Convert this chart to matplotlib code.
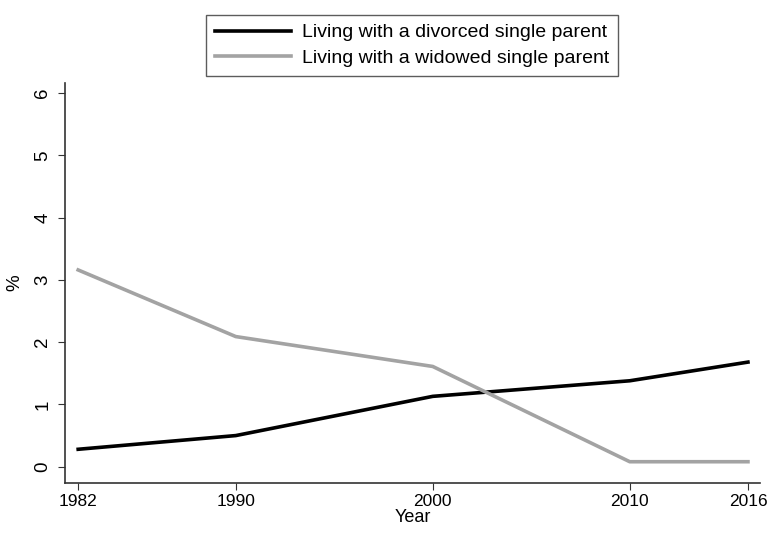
import matplotlib
matplotlib.use("Agg")
import matplotlib.pyplot as plt

plt.rcParams['font.family'] = ['Liberation Sans', 'DejaVu Sans']

years = [1982, 1990, 2000, 2010, 2016]
divorced = [0.28, 0.50, 1.13, 1.38, 1.68]
widowed = [3.16, 2.09, 1.61, 0.08, 0.08]

fig = plt.figure(figsize=(7.69, 5.33), dpi=100)
ax = fig.add_axes([0.085, 0.094, 0.903, 0.75])

ax.plot(years, divorced, color="black", lw=2.6, label="Living with a divorced single parent")
ax.plot(years, widowed, color="#a3a3a3", lw=2.6, label="Living with a widowed single parent")

ax.set_xlim(1981.35, 2016.6)
ax.set_ylim(-0.26, 6.16)
ax.set_xticks(years)
ax.set_yticks(range(0, 7))
ax.tick_params(axis="y", labelrotation=90, labelsize=13.5, length=5, color="#333333", pad=5)
ax.tick_params(axis="x", labelsize=12.5, length=5, color="#333333", pad=3)
for lab in ax.get_yticklabels():
    lab.set_va("center")
ax.spines["top"].set_visible(False)
ax.spines["right"].set_visible(False)
for s in ["left", "bottom"]:
    ax.spines[s].set_color("#333333")
    ax.spines[s].set_linewidth(1.2)
ax.set_xlabel("Year", fontsize=13, labelpad=0)
ax.set_ylabel("%", fontsize=13.5, labelpad=8)

fig.legend(loc="upper center", bbox_to_anchor=(0.536, 0.99), fontsize=14,
           frameon=True, fancybox=False, edgecolor="#333333", handlelength=3.9,
           borderpad=0.45, labelspacing=0.4, handletextpad=0.6)

fig.savefig("out.png", dpi=100)
